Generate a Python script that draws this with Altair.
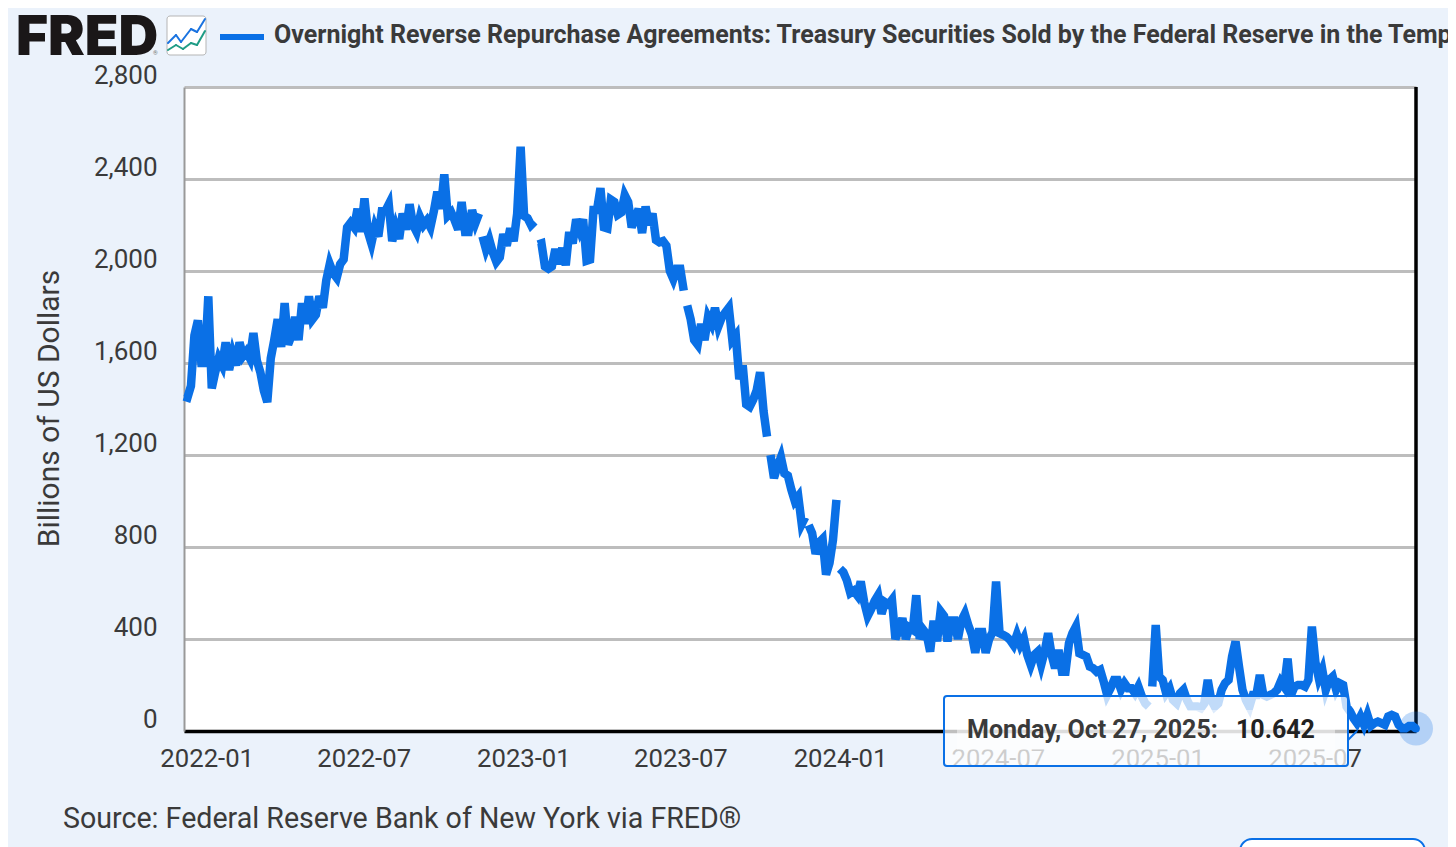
import altair as alt
import pandas as pd

VALUES = [
    1455,1450,1500,1720,1785,1600,1600,1890,1490,1560,
    1620,1590,1690,1570,1640,1590,1690,1630,1650,1620,
    1730,1610,1560,1480,1430,1620,1700,1790,1670,1860,
    1680,1720,1800,1700,1860,1770,1890,1790,1810,1890,
    1840,1960,2030,1990,1970,2030,2050,2190,2210,2190,
    2270,2170,2315,2170,2120,2190,2150,2260,2260,2290,
    2130,2190,2140,2250,2180,2290,2200,2170,2235,2200,
    2220,2190,2260,2345,2270,2420,2240,2255,2220,2180,
    2300,2170,2170,2265,2210,2250,2150,2095,2135,2080,
    2040,2060,2160,2110,2185,2130,2250,2540,2240,2230,
    2200,2215,2115,2120,2020,2010,2020,2095,2030,2100,
    2025,2170,2120,2225,2180,2225,2045,2050,2265,2265,
    2360,2190,2185,2310,2300,2245,2255,2330,2300,2190,
    2230,2270,2165,2280,2200,2250,2135,2125,2130,2110,
    2000,1965,2010,2010,1915,1850,1790,1700,1680,1770,
    1700,1800,1770,1840,1760,1800,1820,1840,1700,1720,
    1530,1590,1420,1410,1440,1480,1560,1390,1280,1200,
    1100,1150,1190,1120,1110,1050,1000,1020,900,930,
    895,860,770,820,835,680,730,830,1005,705,
    690,655,600,610,590,650,560,500,530,565,
    590,510,560,550,570,400,440,490,400,450,
    440,590,400,440,420,345,480,390,520,500,
    390,480,480,400,480,510,460,420,340,430,
    430,340,400,430,650,425,418,410,396,374,
    418,374,403,331,287,331,345,287,345,425,
    331,273,352,258,258,382,425,454,338,331,
    324,280,273,258,266,215,157,186,222,222,
    179,208,186,186,164,193,150,120,106,193,
    461,237,222,164,186,135,121,164,179,135,
    106,106,106,99,120,222,135,106,120,179,
    208,222,324,389,280,179,135,106,157,157,
    244,157,150,157,164,179,215,193,315,157,
    193,200,200,193,222,454,300,229,266,179,
    222,236,179,208,200,106,85,55,34,63,
    27,70,22,34,41,34,27,63,70,63,
    27,12,12,22,22,10.642,
]
GAP_AFTER = [85, 101, 144, 168, 179, 188, 278]
FIRST_DATE = "2021-12-07"
LAST_DATE = "2025-10-27"
STEP_DAYS = 4
TICKS = ["2022-01", "2022-07", "2023-01", "2023-07", "2024-01", "2024-07", "2025-01", "2025-07"]
Y_TICKS = [0, 400, 800, 1200, 1600, 2000, 2400, 2800]
TITLE = ("Overnight Reverse Repurchase Agreements: Treasury Securities Sold by the "
         "Federal Reserve in the Temporary Open Market Operations")
SOURCE = "Source: Federal Reserve Bank of New York via FRED®"
TIP_DATE = "Monday, Oct 27, 2025:"
TIP_VALUE = "10.642"
ICON_BLUE = [(168, 43), (176, 35), (181, 42), (191, 29), (197, 32), (205, 19)]
ICON_GREEN = [(168, 50), (176, 45), (183, 49), (191, 43), (197, 45), (205, 31)]

BG = "#ebf2fb"
BLUE = "#0a70e6"
TEXT = "#3a3a3a"

start = pd.Timestamp(FIRST_DATE)
rows = []
for i, v in enumerate(VALUES):
    d = start + pd.Timedelta(days=STEP_DAYS * i)
    rows.append({"date": d.strftime("%Y-%m-%d"), "value": v})
    if i in GAP_AFTER:
        rows.append({"date": (d + pd.Timedelta(days=2)).strftime("%Y-%m-%d"), "value": None})
df = pd.DataFrame(rows)
last = pd.DataFrame([rows[-1]])


def dt(s):
    p = s.split("-")
    return alt.DateTime(year=int(p[0]), month=int(p[1]),
                        date=int(p[2]) if len(p) > 2 else 1, utc=True)


x_enc = alt.X(
    "date:T",
    title=None,
    scale=alt.Scale(type="utc", domain=[dt(FIRST_DATE), dt(LAST_DATE)], nice=False),
    axis=alt.Axis(
        values=[dt(t) for t in TICKS], format="%Y-%m", grid=False, ticks=False,
        domainColor="#000000", domainWidth=3.5, labelFont="Roboto", labelFontSize=25.7,
        labelColor=TEXT, labelPadding=15, labelOffset=1, labelOverlap=False,
        labelFlush=False, labelBound=False,
    ),
)
y_enc = alt.Y(
    "value:Q",
    title="Billions of US Dollars",
    scale=alt.Scale(domain=[0, 2800], nice=False),
    axis=alt.Axis(
        values=Y_TICKS, format=",.0f", grid=True, gridColor="#bdbdbd", gridWidth=3,
        ticks=False, domainColor="#999999", domainWidth=2, labelFont="Roboto",
        labelFontSize=26, labelColor=TEXT, labelPadding=27, labelOffset=-12,
        labelOverlap=False, labelBound=False, labelFlush=False,
        titleFont="Roboto", titleFontSize=30, titleFontWeight="normal", titleColor=TEXT,
        titleX=-120, titleY=321, titleAlign="center",
    ),
)

main = alt.Chart(df).mark_line(color=BLUE, strokeWidth=8.5, strokeCap="butt",
                               strokeJoin="miter").encode(x=x_enc, y=y_enc)

ONE = alt.InlineData(values=[{"a": 1}])


def X(s):
    return s - 184


def Y(s):
    return s - 87


def rule(x1, y1, x2, y2, color, width, cap="butt"):
    return alt.Chart(ONE).mark_rule(color=color, strokeWidth=width, strokeCap=cap).encode(
        x=alt.value(X(x1)), y=alt.value(Y(y1)), x2=alt.value(X(x2)), y2=alt.value(Y(y2)))


def box(x1, y1, x2, y2, **kw):
    return alt.Chart(ONE).mark_rect(**kw).encode(
        x=alt.value(X(x1)), y=alt.value(Y(y1)), x2=alt.value(X(x2)), y2=alt.value(Y(y2)))


def label(x, y, s, **kw):
    base = dict(align="left", baseline="middle", font="Roboto", color=TEXT)
    base.update(kw)
    return alt.Chart(ONE).mark_text(**base).encode(
        x=alt.value(X(x)), y=alt.value(Y(y)), text=alt.value(s))


layers = [
    rule(1416, 87, 1416, 731, "#000000", 3.5),
    main,
    alt.Chart(last).mark_point(filled=True, color=BLUE, opacity=0.25, size=1156).encode(
        x="date:T", y="value:Q"),
    alt.Chart(last).mark_point(filled=True, color=BLUE, opacity=1, size=60).encode(
        x="date:T", y="value:Q"),
    # tooltip
    box(944, 696, 1348, 766, fill="#ffffff", fillOpacity=0.75, stroke=BLUE, strokeWidth=2,
        cornerRadius=3),
    box(957, 710, 1335, 750, fill="#ffffff", fillOpacity=0.45),
    rule(1348, 740, 1357, 731, BLUE, 2),
    label(967, 730, TIP_DATE, fontSize=25, fontWeight="bold"),
    label(1236, 730, TIP_VALUE, fontSize=25, fontWeight="bold", color="#222222"),
    # header
    label(16, 38, "FRED", font="Inter", fontSize=55, fontWeight=900, color="#1a1718"),
    label(153, 53, "®", fontSize=6, color="#777777"),
    box(167, 16, 206, 55, fill="#ffffff", stroke="#b5b5b5", strokeWidth=1, cornerRadius=3),
]
for pts, col in ((ICON_BLUE, "#1a73e0"), (ICON_GREEN, "#1f9c86")):
    for (a, b), (c, d) in zip(pts[:-1], pts[1:]):
        layers.append(rule(a, b, c, d, col, 2, "round"))
layers += [
    rule(220, 37, 264, 37, BLUE, 6),
    label(274, 35, TITLE, fontSize=25, fontWeight="bold"),
    label(63, 819, SOURCE, fontSize=28.6),
    box(1240, 839, 1425, 870, fill="#ffffff", stroke=BLUE, strokeWidth=2, cornerRadius=12),
]

chart = (
    alt.layer(*layers)
    .properties(
        width=1232,
        height=644,
        autosize=alt.AutoSizeParams(type="none"),
        padding={"left": 176, "top": 79, "right": 32, "bottom": 116},
        background=BG,
    )
    .configure_view(fill="#ffffff", stroke=None)
)

chart.save("out.html", embed_options={"renderer": "svg", "actions": False})
